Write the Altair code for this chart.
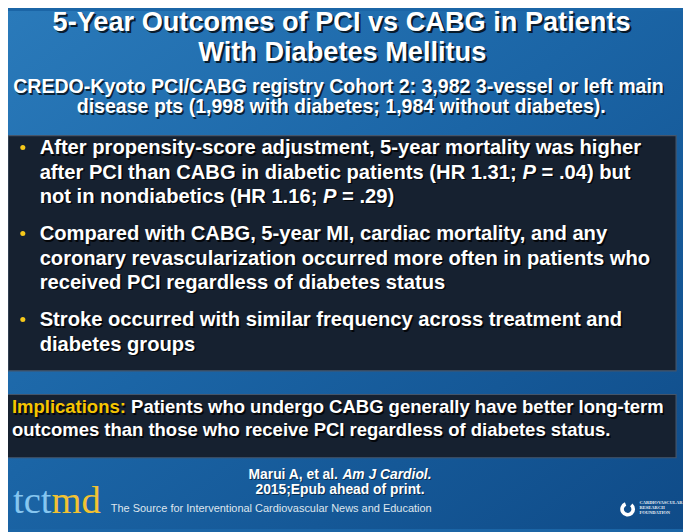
import altair as alt
import pandas as pd

# ---------------- content ----------------
TITLE_LINES = ["5-Year Outcomes of PCI vs CABG in Patients", "With Diabetes Mellitus"]
SUBTITLE_LINES = [
    "CREDO-Kyoto PCI/CABG registry Cohort 2:  3,982 3-vessel or left main",
    "disease pts (1,998 with diabetes; 1,984 without diabetes).",
]
BULLETS = [
    [[("After propensity-score adjustment, 5-year mortality was higher", "n")],
     [("after PCI than CABG in diabetic patients (HR 1.31; ", "n"), ("P", "i"), (" = .04) but", "n")],
     [("not in nondiabetics (HR 1.16; ", "n"), ("P", "i"), (" = .29)", "n")]],
    [[("Compared with CABG, 5-year MI, cardiac mortality, and any", "n")],
     [("coronary revascularization occurred more often in patients who", "n")],
     [("received PCI regardless of diabetes status", "n")]],
    [[("Stroke occurred with similar frequency across treatment and", "n")],
     [("diabetes groups", "n")]],
]
IMPLICATION_LABEL = "Implications:"
IMPLICATION_LINES = [
    "Patients who undergo CABG generally have better long-term",
    "outcomes than those who receive PCI regardless of diabetes status.",
]
CITATION = [[("Marui A, et al. ", "n"), ("Am J Cardiol.", "i")],
            [("2015;Epub ahead of print.", "n")]]
LOGO_PARTS = ["tct", "md"]
TAGLINE = "The Source for Interventional Cardiovascular News and Education"
CRF_LINES = ["CARDIOVASCULAR", "RESEARCH", "FOUNDATION"]

# ---------------- layout / style ----------------
W, H = 683, 524            # visible area (page has 8px margin)
XS = alt.Scale(domain=[8, 691], nice=False, zero=False)
YS = alt.Scale(domain=[532, 8], nice=False, zero=False)
SANS = "Liberation Sans"
SERIF = "Liberation Serif"
WHITE = "#ffffff"
YELLOW = "#f6c500"

# Arial-bold advance widths (1/1000 em) to place mixed-style segments
AB = dict(zip("abcdefghijklmnopqrstuvwxyz",
              [556, 611, 556, 611, 556, 333, 611, 611, 278, 278, 556, 278, 889, 611, 611, 611, 611,
               389, 556, 333, 611, 556, 778, 556, 556, 500]))
AB.update(dict(zip("ABCDEFGHIJKLMNOPQRSTUVWXYZ",
                   [722, 722, 722, 722, 667, 611, 778, 722, 278, 556, 722, 611, 833, 722, 778, 667,
                    778, 722, 667, 611, 722, 667, 944, 667, 667, 611])))
AB.update({c: 556 for c in "0123456789"})
AB.update({" ": 278, ".": 278, ",": 278, ";": 333, ":": 333, "(": 333, ")": 333, "-": 333,
           "/": 278, "=": 584})


def tw(s, size):
    return sum(AB.get(c, 556) for c in s) * size / 1000.0


rows = []


def add_line(segments, x0, y, size, color, shadow=None, center=None):
    total = sum(tw(t, size) for t, _ in segments)
    x = center - total / 2 if center is not None else x0
    for t, st in segments:
        lead = len(t) - len(t.lstrip(" "))
        xs = x + tw(" " * lead, size)
        g = "bi" if st == "i" else "bn"
        if shadow:
            rows.append(dict(x=xs + shadow[0], y=y + shadow[1], text=t.strip(), size=size,
                             color="#000000", op=shadow[2], g=g, order=0))
        rows.append(dict(x=xs, y=y, text=t.strip(), size=size, color=color, op=1.0, g=g, order=1))
        x += tw(t, size)


# title
for i, line in enumerate(TITLE_LINES):
    add_line([(line, "n")], 0, 28 + i * 31, 27.5, WHITE, shadow=(2, 2, 0.75), center=346.5)
# subtitle
for i, line in enumerate(SUBTITLE_LINES):
    add_line([(line, "n")], 0, 91 + i * 20.5, 19.8, WHITE, shadow=(1.5, 1.5, 0.7), center=345.5)
# bullets
dots = []
y = 153
for b in BULLETS:
    dots.append(dict(x=23, y=y - 7))
    for line in b:
        add_line(line, 40, y, 20.4, WHITE, shadow=(1.5, 1.5, 0.8))
        y += 24.5
    y += 13.5
# implications
IS = 18.7
add_line([(IMPLICATION_LABEL, "n")], 12, 415, IS, YELLOW, shadow=(1.5, 1.5, 0.8))
add_line([(IMPLICATION_LINES[0], "n")], 12 + tw(IMPLICATION_LABEL + " ", IS), 415, IS, WHITE,
         shadow=(1.5, 1.5, 0.8))
add_line([(IMPLICATION_LINES[1], "n")], 12, 438, IS, WHITE, shadow=(1.5, 1.5, 0.8))
# citation
for i, segs in enumerate(CITATION):
    add_line(segs, 0, 481 + i * 15.5, 14, WHITE, shadow=(1, 1, 0.5), center=344)

df = pd.DataFrame(rows).sort_values("order", kind="stable")


def text_layer(data, font, weight, style, align="left"):
    return alt.Chart(data).mark_text(
        align=align, baseline="alphabetic", font=font, fontWeight=weight, fontStyle=style
    ).encode(
        x=alt.X("x:Q", scale=XS, axis=None),
        y=alt.Y("y:Q", scale=YS, axis=None),
        text="text:N",
        size=alt.Size("size:Q", scale=None, legend=None),
        color=alt.Color("color:N", scale=None, legend=None),
        opacity=alt.Opacity("op:Q", scale=None, legend=None),
    )


# background
bg = alt.Chart(pd.DataFrame({"a": [0]})).mark_rect(
    fill=alt.Gradient(
        gradient="linear",
        stops=[alt.GradientStop(color="#2a7aba", offset=0),
               alt.GradientStop(color="#1b65a6", offset=0.45),
               alt.GradientStop(color="#0f4b88", offset=1)],
        x1=0, y1=0, x2=1, y2=1,
    )
).encode(x=alt.value(0), x2=alt.value(W), y=alt.value(0), y2=alt.value(H))

boxes = pd.DataFrame({"x": [8, 7], "x2": [684, 684], "y": [134, 396], "y2": [372, 460]})
box_layer = alt.Chart(boxes).mark_rect(fill="#162130", stroke="#45556a", strokeWidth=1.2).encode(
    x=alt.X("x:Q", scale=XS, axis=None), x2="x2:Q",
    y=alt.Y("y:Q", scale=YS, axis=None), y2="y2:Q",
)

dot_layer = alt.Chart(pd.DataFrame(dots)).mark_circle(color="#f6c81a", opacity=1, size=26).encode(
    x=alt.X("x:Q", scale=XS, axis=None), y=alt.Y("y:Q", scale=YS, axis=None)
)

# logo and footer
logo = pd.DataFrame({
    "x": [13, 13 + 39 * 1.0], "y": [516, 516], "text": LOGO_PARTS,
    "size": [39, 39], "color": ["#86c6f0", "#f2c232"], "op": [1.0, 1.0],
})
tag = pd.DataFrame({"x": [112], "y": [515], "text": [TAGLINE], "size": [11.1],
                    "color": ["#dfe6ee"], "op": [1.0]})
crf = pd.DataFrame({"x": [647] * len(CRF_LINES), "y": [507 + 5 * i for i in range(len(CRF_LINES))],
                    "text": CRF_LINES, "size": [4.6] * len(CRF_LINES),
                    "color": ["#e8eef5"] * len(CRF_LINES), "op": [1.0] * len(CRF_LINES)})
crf_icon = alt.Chart(pd.DataFrame({"x": [635], "y": [512]})).mark_arc(
    radius=7.5, radius2=3.8, theta=0.7, theta2=5.9, color="#ffffff"
).encode(x=alt.X("x:Q", scale=XS, axis=None), y=alt.Y("y:Q", scale=YS, axis=None))

layers = [bg, box_layer, dot_layer,
          text_layer(df[df.g == "bn"], SANS, "bold", "normal"),
          text_layer(df[df.g == "bi"], SANS, "bold", "italic"),
          text_layer(logo, SERIF, "normal", "normal"),
          text_layer(tag, SANS, "normal", "normal"),
          text_layer(crf, SERIF, "bold", "normal"),
          crf_icon]

chart = alt.layer(*layers).properties(
    width=W, height=H, padding=0, autosize=alt.AutoSizeParams(type="none"),
    background="#1b65a6",
).configure_view(stroke=None)

chart.save("out.html", embed_options={"renderer": "svg", "actions": False})
